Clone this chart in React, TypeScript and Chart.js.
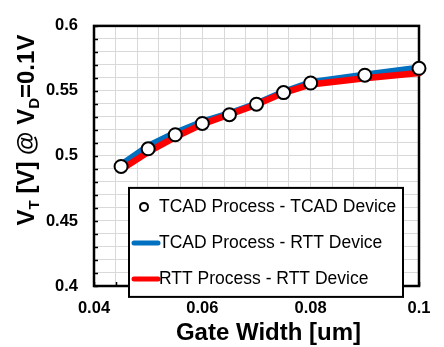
import React, { useEffect, useRef } from "react";
import { Chart, registerables } from "chart.js";

Chart.register(...registerables);

const gateWidth = [0.045, 0.05, 0.055, 0.06, 0.065, 0.07, 0.075, 0.08, 0.09, 0.1];
const tcadProcessTcadDevice = [0.4919, 0.5055, 0.5163, 0.525, 0.5317, 0.5398, 0.5487, 0.5561, 0.5621, 0.5674];
const tcadProcessRttDevice = [0.4935, 0.5079, 0.518, 0.5265, 0.533, 0.5405, 0.5495, 0.5568, 0.5626, 0.568];
const rttProcessRttDevice = [0.4895, 0.5031, 0.5145, 0.5245, 0.532, 0.5395, 0.5485, 0.555, 0.5597, 0.5638];

const xMajorTicks = [0.04, 0.06, 0.08, 0.1];
const xTickLabels = ["0.04", "0.06", "0.08", "0.1"];
const yMajorTicks = [0.4, 0.45, 0.5, 0.55, 0.6];
const yTickLabels = ["0.4", "0.45", "0.5", "0.55", "0.6"];

const legendLabels = ["TCAD Process - TCAD Device", "TCAD Process - RTT Device", "RTT Process - RTT Device"];
const xTitle = "Gate Width [um]";

const FONT = "'Liberation Sans', Arial, sans-serif";
const BLUE = "#0070c0";
const RED = "#ff0000";

function labelFor(v: number, majors: number[], labels: string[]) {
  for (let i = 0; i < majors.length; i++) {
    if (Math.abs(v - majors[i]) < 1e-7) return labels[i];
  }
  return "";
}

const framePlugin = {
  id: "frame",
  beforeDatasetsDraw(chart: any) {
    const { ctx, chartArea: a, scales } = chart;
    ctx.save();
    ctx.strokeStyle = "#000";
    const xs = scales.x;
    const ys = scales.y;
    ctx.lineWidth = 1.5;
    ctx.beginPath();
    xs.ticks.forEach((t: any) => {
      const px = Math.round(xs.getPixelForValue(t.value)) + 0.5;
      ctx.moveTo(px, a.bottom);
      ctx.lineTo(px, a.bottom - 4);
    });
    ys.ticks.forEach((t: any) => {
      const py = Math.round(ys.getPixelForValue(t.value)) + 0.5;
      ctx.moveTo(a.left, py);
      ctx.lineTo(a.left + 4, py);
    });
    ctx.stroke();
    ctx.lineWidth = 2.5;
    ctx.strokeRect(a.left, a.top, a.right - a.left, a.bottom - a.top);
    ctx.restore();
  },
};

const overlayPlugin = {
  id: "overlay",
  afterDraw(chart: any) {
    const { ctx, chartArea: a } = chart;
    ctx.save();
    // legend
    const lx = a.left + 35;
    const ly = a.top + 162;
    const lw = 274;
    const lh = 109;
    ctx.fillStyle = "#fff";
    ctx.fillRect(lx, ly, lw, lh);
    ctx.strokeStyle = "#000";
    ctx.lineWidth = 2;
    ctx.strokeRect(lx, ly, lw, lh);
    ctx.font = `17.5px ${FONT}`;
    ctx.fillStyle = "#000";
    ctx.textBaseline = "middle";
    ctx.textAlign = "left";
    const rows = [ly + 19, ly + 55, ly + 91];
    const textX = lx + 30;
    ctx.beginPath();
    ctx.arc(lx + 15, rows[0], 4, 0, Math.PI * 2);
    ctx.fillStyle = "#fff";
    ctx.fill();
    ctx.lineWidth = 2;
    ctx.strokeStyle = "#000";
    ctx.stroke();
    ctx.fillStyle = "#000";
    ctx.fillText(legendLabels[0], textX, rows[0]);
    ctx.lineCap = "round";
    ctx.lineWidth = 5;
    ctx.strokeStyle = BLUE;
    ctx.beginPath();
    ctx.moveTo(lx + 5, rows[1]);
    ctx.lineTo(lx + 29, rows[1]);
    ctx.stroke();
    ctx.fillText(legendLabels[1], textX, rows[1]);
    ctx.strokeStyle = RED;
    ctx.beginPath();
    ctx.moveTo(lx + 5, rows[2]);
    ctx.lineTo(lx + 29, rows[2]);
    ctx.stroke();
    ctx.fillText(legendLabels[2], textX, rows[2]);

    // x title
    ctx.font = `bold 24px ${FONT}`;
    ctx.textAlign = "center";
    ctx.textBaseline = "alphabetic";
    ctx.fillText(xTitle, (a.left + a.right) / 2 + 12, 340);

    // y title with subscripts
    const parts: [string, boolean][] = [
      ["V", false],
      ["T", true],
      [" [V] @ ", false],
      ["V", false],
      ["D", true],
      ["=0.1V", false],
    ];
    const big = `bold 24px ${FONT}`;
    const small = `bold 15px ${FONT}`;
    let total = 0;
    parts.forEach(([s, sub]) => {
      ctx.font = sub ? small : big;
      total += ctx.measureText(s).width;
    });
    ctx.translate(34, 130);
    ctx.rotate(-Math.PI / 2);
    ctx.textAlign = "left";
    let x = -total / 2;
    parts.forEach(([s, sub]) => {
      ctx.font = sub ? small : big;
      ctx.fillText(s, x, sub ? 5 : 0);
      x += ctx.measureText(s).width;
    });
    ctx.restore();
  },
};

export default function App() {
  const ref = useRef<HTMLCanvasElement | null>(null);
  useEffect(() => {
    if (!ref.current) return;
    const toPts = (ys: number[]) => gateWidth.map((x, i) => ({ x, y: ys[i] }));
    const chart = new Chart(ref.current, {
      type: "scatter",
      data: {
        datasets: [
          {
            label: legendLabels[0],
            data: toPts(tcadProcessTcadDevice),
            showLine: false,
            pointRadius: 6.5,
            pointBackgroundColor: "#fff",
            pointBorderColor: "#000",
            pointBorderWidth: 2,
            clip: false,
          } as any,
          {
            label: legendLabels[2],
            data: toPts(rttProcessRttDevice),
            showLine: true,
            borderColor: RED,
            borderWidth: 6.5,
            pointRadius: 0,
            borderCapStyle: "round",
            borderJoinStyle: "round",
            clip: false,
          } as any,
          {
            label: legendLabels[1],
            data: toPts(tcadProcessRttDevice),
            showLine: true,
            borderColor: BLUE,
            borderWidth: 6,
            pointRadius: 0,
            borderCapStyle: "round",
            borderJoinStyle: "round",
            clip: false,
          } as any,
        ],
      },
      options: {
        responsive: false,
        animation: false,
        layout: { padding: { left: 0, right: 25, top: 8, bottom: 0 } },
        plugins: { legend: { display: false }, tooltip: { enabled: false } },
        scales: {
          x: {
            type: "linear",
            min: 0.04,
            max: 0.1,
            afterFit: (s: any) => {
              s.height = 61;
            },
            ticks: {
              stepSize: 0.004,
              autoSkip: false,
              maxRotation: 0,
              padding: 13,
              color: "#000",
              font: { family: FONT, size: 16.5, weight: "bold" },
              callback: (v: any) => labelFor(Number(v), xMajorTicks, xTickLabels),
            },
            grid: { color: "#d9d9d9", lineWidth: 1, drawTicks: false },
            border: { display: false },
          },
          y: {
            type: "linear",
            min: 0.4,
            max: 0.6,
            afterFit: (s: any) => {
              s.width = 94;
            },
            ticks: {
              stepSize: 0.01,
              autoSkip: false,
              padding: 16,
              color: "#000",
              font: { family: FONT, size: 16.5, weight: "bold" },
              callback: (v: any) => labelFor(Number(v), yMajorTicks, yTickLabels),
            },
            grid: { color: "#d9d9d9", lineWidth: 1, drawTicks: false },
            border: { display: false },
          },
        },
      },
      plugins: [framePlugin, overlayPlugin],
    });
    return () => chart.destroy();
  }, []);
  return (
    <div style={{ position: "fixed", left: 0, top: 0, width: 444, height: 347, background: "#fff" }}>
      <canvas ref={ref} width={444} height={347} style={{ width: 444, height: 347 }} />
    </div>
  );
}
